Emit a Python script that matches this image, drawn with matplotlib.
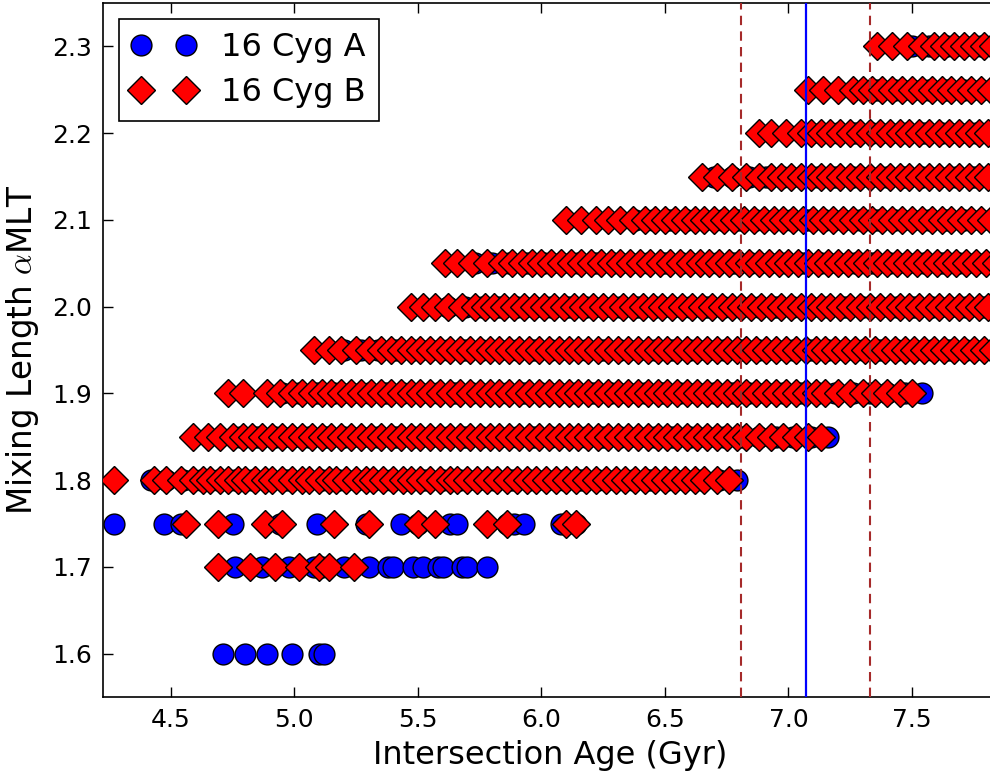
import numpy as np
import matplotlib
matplotlib.use("Agg")
import matplotlib.pyplot as plt

# ---------------- data (ages in Gyr for each mixing-length value) ----------------
alpha_values = [1.60, 1.70, 1.75, 1.80, 1.85, 1.90, 1.95, 2.00, 2.05, 2.10, 2.15, 2.20, 2.25, 2.30]

# 16 Cyg A
A_160 = [4.71, 4.80, 4.89, 4.99, 5.10, 5.12]
A_170 = [4.76, 4.87, 4.98, 5.08, 5.11, 5.20, 5.30, 5.38, 5.40, 5.48, 5.52, 5.58, 5.60, 5.68, 5.70, 5.78]
A_175 = [4.27, 4.47, 4.54, 4.75, 4.94, 5.09, 5.29, 5.43, 5.50, 5.63, 5.66, 5.86, 5.89, 5.93, 6.08, 6.14]
A_180 = [4.42, 4.48, 4.55, 4.62, 4.69, 4.76, 4.83, 4.90, 4.97, 5.04, 5.11, 5.18, 5.25, 5.32, 5.39,
         5.46, 5.53, 5.60, 5.67, 5.74, 5.81, 5.88, 5.95, 6.02, 6.09, 6.16, 6.23, 6.30, 6.37, 6.44,
         6.51, 6.58, 6.65, 6.72, 6.79]
A_185 = [4.78, 4.85, 4.92, 4.99, 5.06, 5.13, 5.20, 5.27, 5.34, 5.41, 5.48, 5.55, 5.62, 5.69, 5.76,
         5.83, 5.90, 5.97, 6.04, 6.11, 6.18, 6.25, 6.32, 6.39, 6.46, 6.53, 6.60, 6.67, 6.74, 6.81,
         6.88, 6.95, 7.02, 7.09, 7.16]
A_190 = [4.95, 5.02, 5.09, 5.16, 5.23, 5.30, 5.37, 5.44, 5.51, 5.58, 5.65, 5.72, 5.79, 5.86, 5.93,
         6.00, 6.07, 6.14, 6.21, 6.28, 6.35, 6.42, 6.49, 6.56, 6.63, 6.70, 6.77, 6.84, 6.91, 6.98,
         7.05, 7.12, 7.19, 7.26, 7.33, 7.40, 7.47, 7.54]
A_195 = [5.20, 5.27, 5.34, 5.41, 5.48, 5.55, 5.62, 5.69, 5.76, 5.83, 5.90, 5.97, 6.04, 6.11, 6.18,
         6.25, 6.32, 6.39, 6.46, 6.53, 6.60, 6.67, 6.74, 6.81, 6.88, 6.95, 7.02, 7.09, 7.16, 7.23,
         7.30, 7.37, 7.44, 7.51, 7.58, 7.65, 7.72, 7.79, 7.86]
A_200 = [5.62, 5.69, 5.76, 5.83, 5.90, 5.97, 6.04, 6.11, 6.18, 6.25, 6.32, 6.39, 6.46, 6.53, 6.60,
         6.67, 6.74, 6.81, 6.88, 6.95, 7.02, 7.09, 7.16, 7.23, 7.30, 7.37, 7.44, 7.51, 7.58, 7.65,
         7.72, 7.79, 7.86]
A_205 = [5.73, 5.80, 5.87, 5.94, 6.01, 6.08, 6.15, 6.22, 6.29, 6.36, 6.43, 6.50, 6.57, 6.64, 6.71,
         6.78, 6.85, 6.92, 6.99, 7.06, 7.13, 7.20, 7.27, 7.34, 7.41, 7.48, 7.55, 7.62, 7.69, 7.76, 7.83]
A_210 = [6.38, 6.45, 6.52, 6.59, 6.66, 6.73, 6.80, 6.87, 6.94, 7.01, 7.08, 7.15, 7.22, 7.29, 7.36,
         7.43, 7.50, 7.57, 7.64, 7.71, 7.78, 7.85]
A_215 = [6.70, 6.77, 6.84, 6.91, 6.98, 7.05, 7.12, 7.19, 7.26, 7.33, 7.40, 7.47, 7.54, 7.61, 7.68,
         7.75, 7.82]
A_220 = [7.06, 7.13, 7.20, 7.27, 7.34, 7.41, 7.48, 7.55, 7.62, 7.69, 7.76, 7.83]
A_225 = [7.36, 7.43, 7.50, 7.57, 7.64, 7.71, 7.78, 7.85]
A_230 = [7.50, 7.57, 7.64, 7.71, 7.78, 7.85]

# 16 Cyg B
B_160 = []
B_170 = [4.69, 4.82, 4.92, 5.02, 5.10, 5.14, 5.24]
B_175 = [4.56, 4.69, 4.88, 4.95, 5.16, 5.30, 5.50, 5.57, 5.78, 5.86, 6.10, 6.14]
B_180 = [4.27, 4.43, 4.48, 4.54, 4.59, 4.63, 4.66, 4.70, 4.73, 4.77, 4.80, 4.84, 4.88, 4.91, 4.95,
         4.99, 5.03, 5.06, 5.10, 5.14, 5.17, 5.21, 5.25, 5.29, 5.32, 5.36, 5.40, 5.44, 5.47, 5.51,
         5.55, 5.59, 5.63, 5.66, 5.70, 5.74, 5.78, 5.82, 5.86, 5.90, 5.94, 5.98, 6.02, 6.06, 6.10,
         6.14, 6.18, 6.22, 6.26, 6.30, 6.34, 6.38, 6.42, 6.46, 6.50, 6.54, 6.58, 6.62, 6.66, 6.71, 6.76]
B_185 = [4.59, 4.65, 4.70, 4.75, 4.79, 4.83, 4.87, 4.91, 4.95, 4.99, 5.03, 5.07, 5.11, 5.15, 5.19,
         5.23, 5.27, 5.31, 5.35, 5.39, 5.43, 5.47, 5.51, 5.55, 5.59, 5.63, 5.67, 5.71, 5.75, 5.79,
         5.83, 5.87, 5.91, 5.95, 5.99, 6.03, 6.07, 6.11, 6.15, 6.19, 6.23, 6.27, 6.31, 6.35, 6.39,
         6.43, 6.47, 6.51, 6.55, 6.59, 6.63, 6.67, 6.71, 6.75, 6.79, 6.83, 6.88, 6.93, 6.98, 7.03,
         7.08, 7.13]
B_190 = [4.73, 4.79, 4.89, 4.94, 4.99, 5.03, 5.07, 5.11, 5.15, 5.19, 5.23, 5.27, 5.31, 5.35, 5.39,
         5.43, 5.47, 5.51, 5.55, 5.59, 5.63, 5.67, 5.71, 5.75, 5.79, 5.83, 5.87, 5.91, 5.95, 5.99,
         6.03, 6.07, 6.11, 6.15, 6.19, 6.23, 6.27, 6.31, 6.35, 6.39, 6.43, 6.47, 6.51, 6.55, 6.59,
         6.63, 6.67, 6.71, 6.75, 6.79, 6.83, 6.87, 6.91, 6.95, 6.99, 7.03, 7.07, 7.11, 7.15, 7.20,
         7.25, 7.30, 7.35, 7.40, 7.45, 7.50]
B_195 = [5.08, 5.14, 5.19, 5.25, 5.30, 5.35, 5.39, 5.43, 5.47, 5.51, 5.55, 5.59, 5.63, 5.67, 5.71,
         5.75, 5.79, 5.83, 5.87, 5.91, 5.95, 5.99, 6.03, 6.07, 6.11, 6.15, 6.19, 6.23, 6.27, 6.31,
         6.35, 6.39, 6.43, 6.47, 6.51, 6.55, 6.59, 6.63, 6.67, 6.71, 6.75, 6.79, 6.83, 6.87, 6.91,
         6.95, 6.99, 7.03, 7.07, 7.11, 7.15, 7.19, 7.23, 7.27, 7.31, 7.35, 7.39, 7.43, 7.47, 7.51,
         7.55, 7.59, 7.63, 7.67, 7.71, 7.75, 7.79, 7.83]
B_200 = [5.47, 5.52, 5.57, 5.62, 5.68, 5.73, 5.77, 5.81, 5.85, 5.89, 5.93, 5.97, 6.01, 6.05, 6.09,
         6.13, 6.17, 6.21, 6.25, 6.29, 6.33, 6.37, 6.41, 6.45, 6.49, 6.53, 6.57, 6.61, 6.65, 6.69,
         6.73, 6.77, 6.81, 6.85, 6.89, 6.93, 6.97, 7.01, 7.05, 7.09, 7.13, 7.17, 7.21, 7.25, 7.29,
         7.33, 7.37, 7.41, 7.45, 7.49, 7.53, 7.57, 7.61, 7.65, 7.69, 7.73, 7.77, 7.81]
B_205 = [5.61, 5.66, 5.72, 5.78, 5.84, 5.88, 5.92, 5.96, 6.00, 6.04, 6.08, 6.12, 6.16, 6.20, 6.24,
         6.28, 6.32, 6.36, 6.40, 6.44, 6.48, 6.52, 6.56, 6.60, 6.64, 6.68, 6.72, 6.76, 6.80, 6.84,
         6.88, 6.92, 6.96, 7.00, 7.04, 7.08, 7.12, 7.16, 7.20, 7.24, 7.28, 7.32, 7.36, 7.40, 7.44,
         7.48, 7.52, 7.56, 7.60, 7.64, 7.68, 7.72, 7.76, 7.80, 7.84]
B_210 = [6.10, 6.16, 6.22, 6.27, 6.32, 6.37, 6.42, 6.46, 6.50, 6.54, 6.58, 6.62, 6.66, 6.70, 6.74,
         6.78, 6.82, 6.86, 6.90, 6.94, 6.98, 7.02, 7.06, 7.10, 7.14, 7.18, 7.22, 7.26, 7.30, 7.34,
         7.38, 7.42, 7.46, 7.50, 7.54, 7.58, 7.62, 7.66, 7.70, 7.74, 7.78, 7.82]
B_215 = [6.65, 6.71, 6.77, 6.83, 6.88, 6.93, 6.97, 7.01, 7.05, 7.09, 7.13, 7.17, 7.21, 7.25, 7.29,
         7.33, 7.37, 7.41, 7.45, 7.49, 7.53, 7.57, 7.61, 7.65, 7.69, 7.73, 7.77, 7.81]
B_220 = [6.88, 6.93, 6.99, 7.05, 7.09, 7.13, 7.17, 7.21, 7.25, 7.29, 7.33, 7.37, 7.41, 7.45, 7.49,
         7.53, 7.57, 7.61, 7.65, 7.69, 7.73, 7.77, 7.81]
B_225 = [7.08, 7.14, 7.20, 7.26, 7.30, 7.34, 7.38, 7.42, 7.46, 7.50, 7.54, 7.58, 7.62, 7.66, 7.70,
         7.74, 7.78, 7.82]
B_230 = [7.36, 7.42, 7.48, 7.54, 7.59, 7.63, 7.67, 7.71, 7.75, 7.79, 7.83]

rows_A = [A_160, A_170, A_175, A_180, A_185, A_190, A_195, A_200, A_205, A_210, A_215, A_220, A_225, A_230]
rows_B = [B_160, B_170, B_175, B_180, B_185, B_190, B_195, B_200, B_205, B_210, B_215, B_220, B_225, B_230]

best_age = 7.07
age_low, age_high = 6.81, 7.33

x_ticks = [4.5, 5.0, 5.5, 6.0, 6.5, 7.0, 7.5]
y_ticks = [1.6, 1.7, 1.8, 1.9, 2.0, 2.1, 2.2, 2.3]
label_A = "16 Cyg A"
label_B = "16 Cyg B"

# ---------------- plotting ----------------
plt.rcParams["mathtext.fontset"] = "cm"
plt.rcParams["font.family"] = "DejaVu Sans"

fig = plt.figure(figsize=(9.9, 7.74), dpi=100)
ax_w_px = 910
ax = fig.add_axes([103 / 990, 77 / 774, ax_w_px / 990, 694 / 774])

xa = np.concatenate([np.asarray(r, float) for r in rows_A])
ya = np.concatenate([np.full(len(r), a) for r, a in zip(rows_A, alpha_values)])
xb = np.concatenate([np.asarray(r, float) for r in rows_B])
yb = np.concatenate([np.full(len(r), a) for r, a in zip(rows_B, alpha_values)])

ax.plot(xa, ya, linestyle="none", marker="o", ms=15, mfc="#0000ff", mec="black",
        mew=1.0, label=label_A, zorder=2)
ax.plot(xb, yb, linestyle="none", marker="D", ms=14.5, mfc="#ff0000", mec="black",
        mew=1.0, label=label_B, zorder=3)

ax.axvline(best_age, color="#0000ff", lw=1.6, zorder=5)
for v in (age_low, age_high):
    ax.axvline(v, color="#a52a2a", lw=1.5, linestyle=(0, (4.5, 3.0)), zorder=5)

ax.set_xlim(4.225, 4.225 + ax_w_px / 247)
ax.set_ylim(1.55, 2.35)
ax.set_xticks(x_ticks)
ax.set_yticks(y_ticks)
ax.tick_params(direction="in", length=7, width=1, top=True, right=True,
               labelsize=18, pad=8, colors="black")
for s in ax.spines.values():
    s.set_linewidth(1.2)

ax.set_xlabel("Intersection Age (Gyr)", fontsize=23, labelpad=6)
ax.xaxis.label.set_x((550 - 103) / ax_w_px)
ax.set_ylabel(r"Mixing Length $\alpha$MLT", fontsize=23.5, labelpad=8)

leg = ax.legend(loc="upper left", numpoints=2, fontsize=23, fancybox=False,
                framealpha=1, edgecolor="black", handlelength=2.0,
                borderpad=0.4, labelspacing=0.45, handletextpad=0.8, borderaxespad=0.5)
leg.get_frame().set_linewidth(1.2)

fig.savefig("out.png", dpi=100, facecolor="white")
